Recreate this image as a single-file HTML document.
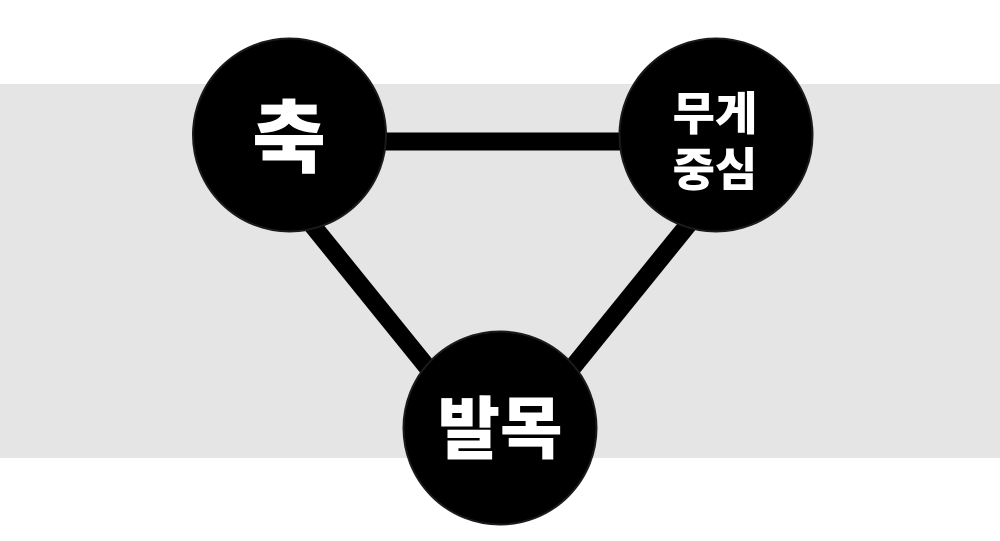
<!DOCTYPE html>
<html><head><meta charset="utf-8"><style>
html,body{margin:0;padding:0;background:#fff;}
body{width:1000px;height:541px;overflow:hidden;position:relative;}
</style></head><body>
<svg width="1000" height="541" viewBox="0 0 1000 541" xmlns="http://www.w3.org/2000/svg" style="position:absolute;left:0;top:0">
<rect x="0" y="84" width="1000" height="374" fill="#e5e5e5"/>
<line x1="289" y1="141.5" x2="716" y2="141.5" stroke="#000" stroke-width="18"/>
<line x1="300" y1="210" x2="470" y2="420" stroke="#000" stroke-width="18"/>
<line x1="700" y1="210" x2="530" y2="420" stroke="#000" stroke-width="18"/>
<circle cx="289.5" cy="135" r="96.5" fill="#000" stroke="#1a1a1a" stroke-width="2"/>
<circle cx="716" cy="135" r="96.5" fill="#000" stroke="#1a1a1a" stroke-width="2"/>
<circle cx="500" cy="428" r="96.5" fill="#000" stroke="#1a1a1a" stroke-width="2"/>
<g font-family="'Liberation Sans','Noto Sans CJK KR',sans-serif" font-weight="900" fill="#fff" text-anchor="middle">
<text x="289" y="166" font-size="80">축</text>
<text x="715" y="130" font-size="46">무게</text>
<text x="715" y="186" font-size="46">중심</text>
<text x="500" y="453" font-size="68">발목</text>
</g>
</svg>
</body></html>
